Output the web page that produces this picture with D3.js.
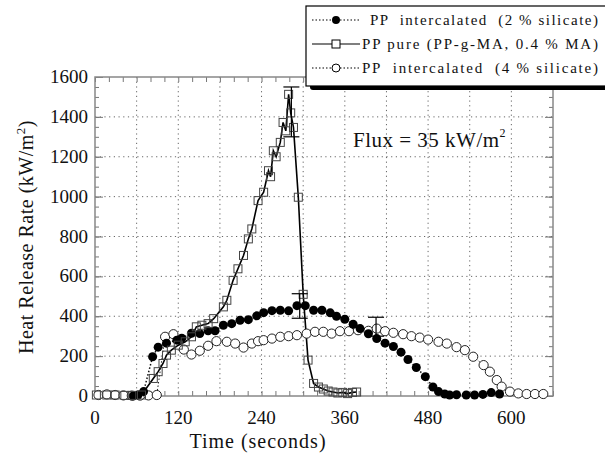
<!DOCTYPE html>
<html><head><meta charset="utf-8">
<script src="https://cdn.jsdelivr.net/npm/d3@7"></script>
<style>body{margin:0;background:#fff}svg{display:block}text{font-family:"Liberation Serif","Times New Roman",serif;fill:#111}</style>
</head><body>
<svg id="c" width="605" height="456"></svg>
<script>
// ---- data (time s, HRR kW/m2) ----
const xTicks = [0,120,240,360,480,600];
const yTicks = [0,200,400,600,800,1000,1200,1400,1600];
const seriesNames = ["PP  intercalated  (2 % silicate)","PP pure (PP-g-MA, 0.4 % MA)","PP  intercalated  (4 % silicate)"];
const pp2 = [[55,0],[62,5],[70,22],[83,197],[91,245],[103,265],[118,280],[125,290],[139,315],[151,313],[163,327],[173,327],[185,355],[197,363],[209,380],[221,383],[233,402],[243,418],[255,428],[267,430],[279,427],[291,453],[303,453],[315,430],[327,430],[339,417],[348,400],[360,385],[372,360],[382,338],[394,312],[406,288],[418,265],[430,248],[441,220],[451,183],[463,143],[476,97],[487,45],[495,22],[504,10],[511,5],[521,6],[535,5],[547,5],[559,8],[571,17],[583,10]];
const ppPure = [[2,5],[17,5],[29,5],[43,3],[53,3],[67,5],[84,88],[91,122],[98,163],[103,205],[110,230],[120,255],[130,272],[139,297],[146,347],[154,355],[163,363],[171,388],[185,447],[190,480],[199,580],[206,638],[214,705],[221,788],[226,838],[235,980],[243,1022],[250,1130],[253,1100],[257,1230],[261,1200],[267,1272],[271,1372],[275,1330],[279,1513],[282,1420],[286,1347],[293,997],[300,510],[307,180],[315,63],[322,45],[329,35],[336,25],[343,20],[350,15],[357,18],[364,12],[371,18],[377,20]];
const pp4 = [[5,5],[17,8],[29,5],[41,3],[53,2],[65,2],[77,3],[89,5],[101,297],[113,310],[128,233],[139,208],[151,227],[163,252],[175,275],[190,272],[202,263],[214,243],[226,263],[235,275],[243,280],[255,288],[267,297],[279,300],[291,305],[305,313],[317,322],[329,322],[341,313],[353,325],[366,325],[379,330],[394,327],[406,338],[418,325],[430,317],[444,310],[456,300],[468,293],[480,283],[495,272],[507,263],[521,245],[533,230],[545,197],[560,155],[569,122],[579,80],[586,47],[598,22],[610,13],[622,10],[634,10],[646,10]];
const errBars = [[283,1300,1550],[295,390,513],[405,300,395]];
const fluxLabel = "Flux = 35 kW/m";

const svg = d3.select("#c");
const L=95,R=553,T=77,B=396;
const x = d3.scaleLinear().domain([0,660]).range([L,R]);
const y = d3.scaleLinear().domain([0,1600]).range([B,T]);

// grid
const g = svg.append("g");
d3.range(60,660,60).forEach(v=>g.append("line").attr("x1",x(v)).attr("x2",x(v)).attr("y1",T).attr("y2",B).attr("stroke","#555").attr("stroke-width",0.9).attr("stroke-dasharray","1.2,3.5"));
d3.range(200,1600,200).forEach(v=>g.append("line").attr("x1",L).attr("x2",R).attr("y1",y(v)).attr("y2",y(v)).attr("stroke","#555").attr("stroke-width",0.9).attr("stroke-dasharray","1.2,3.5"));

// axes with inward ticks
const ax = (gen, tr)=>svg.append("g").attr("transform",tr).call(gen).call(s=>{s.select(".domain").remove();s.selectAll("line").attr("stroke","#777");s.selectAll("text").remove();});
const xMinor = d3.range(0,661,20), yMinor = d3.range(0,1601,50);
ax(d3.axisBottom(x).tickValues(xMinor).tickSize(-5),`translate(0,${B})`);
ax(d3.axisTop(x).tickValues(xMinor).tickSize(-5),`translate(0,${T})`);
ax(d3.axisLeft(y).tickValues(yMinor).tickSize(-4),`translate(${L},0)`);
ax(d3.axisRight(y).tickValues(yMinor).tickSize(-4),`translate(${R},0)`);
ax(d3.axisLeft(y).tickValues(yTicks).tickSize(-8),`translate(${L},0)`);
ax(d3.axisRight(y).tickValues(yTicks).tickSize(-8),`translate(${R},0)`);
svg.append("rect").attr("x",L).attr("y",T).attr("width",R-L).attr("height",B-T).attr("fill","none").attr("stroke","#888").attr("stroke-width",1.5);

// tick labels
xTicks.forEach(v=>svg.append("text").attr("x",x(v)).attr("y",424).attr("text-anchor","middle").attr("font-size",19).text(v));
yTicks.forEach(v=>svg.append("text").attr("x",88).attr("y",y(v)+6).attr("text-anchor","end").attr("font-size",19).text(v));

// titles
svg.append("text").attr("x",258).attr("y",448).attr("text-anchor","middle").attr("font-size",20).attr("letter-spacing",1).text("Time (seconds)");
const yt = svg.append("text").attr("transform","translate(33,237) rotate(-90)").attr("text-anchor","middle").attr("font-size",20).attr("letter-spacing",0.5);
yt.append("tspan").text("Heat Release Rate (kW/m");
yt.append("tspan").attr("dy",-8).attr("font-size",13).text("2");
yt.append("tspan").attr("dy",8).text(")");

const ft = svg.append("text").attr("x",353).attr("y",147).attr("font-size",21).attr("letter-spacing",0.5);
ft.append("tspan").text(fluxLabel);
ft.append("tspan").attr("dy",-10).attr("font-size",12).text("2");

// series
const line = d3.line().x(d=>x(d[0])).y(d=>y(d[1]));
svg.append("path").datum(pp4).attr("d",line).attr("fill","none").attr("stroke","#222").attr("stroke-width",1).attr("stroke-dasharray","1.5,2");
svg.append("path").datum(pp2).attr("d",line).attr("fill","none").attr("stroke","#111").attr("stroke-width",1.5).attr("stroke-dasharray","1.5,2");
svg.append("path").datum(ppPure).attr("d",line).attr("fill","none").attr("stroke","#000").attr("stroke-width",1.6);

svg.append("g").selectAll("circle").data(pp4).join("circle").attr("cx",d=>x(d[0])).attr("cy",d=>y(d[1])).attr("r",4.6).attr("fill","#fff").attr("stroke","#222").attr("stroke-width",1);
svg.append("g").selectAll("circle").data(pp2).join("circle").attr("cx",d=>x(d[0])).attr("cy",d=>y(d[1])).attr("r",4.5).attr("fill","#000");
svg.append("g").selectAll("rect").data(ppPure).join("rect").attr("x",d=>x(d[0])-4).attr("y",d=>y(d[1])-4).attr("width",8).attr("height",8).attr("fill","none").attr("stroke","#444").attr("stroke-width",1);

// error bars
errBars.forEach(([t,lo,hi])=>{
  const eg=svg.append("g").attr("stroke","#000").attr("stroke-width",1.2);
  eg.append("line").attr("x1",x(t)).attr("x2",x(t)).attr("y1",y(lo)).attr("y2",y(hi));
  eg.append("line").attr("x1",x(t)-8).attr("x2",x(t)+8).attr("y1",y(lo)).attr("y2",y(lo));
  eg.append("line").attr("x1",x(t)-8).attr("x2",x(t)+8).attr("y1",y(hi)).attr("y2",y(hi));
});

// legend
const lg = svg.append("g");
lg.append("rect").attr("x",310).attr("y",10).attr("width",300).attr("height",80).attr("fill","#000").attr("rx",3);
lg.append("rect").attr("x",306).attr("y",6).attr("width",305).attr("height",80).attr("fill","#fff").attr("stroke","#000").attr("stroke-width",1.2);
const rows=[{y:20,dash:"1.5,2",m:"fc",tx:370},{y:44,dash:null,m:"sq",tx:362},{y:68,dash:"1.5,2",m:"oc",tx:362}];
rows.forEach((r,i)=>{
  const ln=lg.append("line").attr("x1",312).attr("x2",360).attr("y1",r.y).attr("y2",r.y).attr("stroke","#000").attr("stroke-width",1.2);
  if(r.dash) ln.attr("stroke-dasharray",r.dash);
  if(r.m==="fc") lg.append("circle").attr("cx",336).attr("cy",r.y).attr("r",4).attr("fill","#000");
  if(r.m==="oc") lg.append("circle").attr("cx",336).attr("cy",r.y).attr("r",4).attr("fill","#fff").attr("stroke","#000");
  if(r.m==="sq") lg.append("rect").attr("x",332).attr("y",r.y-4).attr("width",8).attr("height",8).attr("fill","#fff").attr("stroke","#000");
  lg.append("text").attr("x",r.tx).attr("y",r.y+5).attr("font-size",15).attr("textLength",598-r.tx).attr("lengthAdjust","spacing").attr("xml:space","preserve").style("white-space","pre").text(seriesNames[i]);
});
</script>
</body></html>
